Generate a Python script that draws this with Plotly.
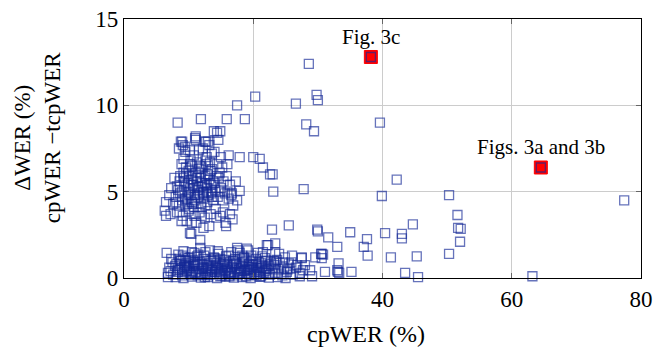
import plotly.graph_objects as go

# Sparse / outlying points (cpWER %, delta WER %)
sparse_x = [28.6, 20.3, 17.5, 29.8, 30.0, 26.6, 8.3, 11.9, 15.9, 18.7, 28.2, 29.4, 39.6, 13.9, 14.9,
            42.2, 39.9, 50.3, 77.4, 27.8, 23.1, 23.0, 51.6, 51.7, 52.1, 52.0, 50.3, 44.7, 43.0, 43.0,
            40.4, 37.6, 37.1, 37.7, 35.0, 33.0, 31.6, 30.0, 25.5, 41.3, 45.3, 33.2, 30.5, 29.6, 35.2,
            33.1, 43.5, 45.5, 63.2, 27.7, 28.8, 29.1, 27.5, 21.0, 21.5, 22.6, 17.9, 20.0, 17.9, 16.7,
            16.9, 15.8, 10.4, 11.8, 14.9, 10.5, 22.9, 22.3, 23.4, 24.9, 29.9, 30.8, 31.1, 33.0, 33.3,
            30.6, 30.6, 10.2, 38.2, 64.5]
sparse_y = [12.4, 10.5, 10.0, 10.6, 10.3, 10.1, 9.0, 9.2, 9.2, 9.2, 8.9, 8.5, 9.0, 8.5, 8.5,
            5.7, 4.75, 4.8, 4.5, 5.15, 5.0, 6.0, 3.65, 2.9, 2.85, 2.1, 1.4, 3.1, 2.55, 2.3,
            2.6, 2.25, 1.8, 1.3, 2.65, 1.8, 2.35, 2.7, 3.05, 1.2, 1.25, 0.85, 1.4, 1.2, 0.35,
            0.35, 0.3, 0.05, 0.1, 0.45, 0.45, 0.1, 1.15, 6.9, 6.4, 6.0, 7.0, 7.0, 5.05, 4.9,
            4.2, 3.0, 2.55, 2.2, 3.6, 3.2, 2.8, 1.9, 2.0, 1.2, 2.8, 1.35, 0.35, 0.45, 0.3,
            1.4, 1.15, 2.6, 12.8, 6.4]

# Upper cluster (cpWER ~6-18 %, delta ~3-8.5 %)
upper_x = [8.8, 9.1, 8.5, 10.2, 11.1, 12.5, 13.2, 12.2, 13.6, 14.6, 9.4, 11.0, 13.0, 14.4, 9.0, 11.1, 12.7,
           9.5, 10.8, 11.6, 12.8, 14.0, 15.0, 9.2, 10.3, 13.3, 16.2,
           8.9, 9.6, 10.5, 11.3, 12.0, 12.7, 13.6, 14.4, 15.2, 16.0, 10.0, 11.8, 13.0, 14.8, 9.2, 15.9,
           7.8, 8.6, 9.3, 9.9, 10.6, 11.2, 11.9, 12.5, 13.2, 14.0, 14.7, 15.4, 16.4, 17.3, 8.2, 10.2,
           11.5, 12.9, 13.7, 15.0, 16.0, 7.3, 9.0,
           7.0, 8.0, 8.7, 9.5, 10.3, 11.0, 11.7, 12.3, 13.0, 13.8, 14.5, 15.3, 16.2, 17.5, 9.8, 10.8,
           12.6, 14.2, 6.5, 7.6, 8.5,
           6.3, 7.2, 8.2, 9.1, 10.0, 10.9, 11.7, 12.5, 13.4, 14.3, 15.3, 16.4, 6.5, 11.2, 13.2, 12.3,
           8.9, 16.8, 15.7,
           9.3, 10.0, 10.7, 11.4, 12.1, 12.8, 13.5, 9.6, 10.4, 11.1, 11.9, 12.6, 13.4, 9.0, 9.9, 10.6,
           11.4, 12.2, 12.9, 13.6, 10.1, 11.9, 14.1, 8.4, 8.1, 14.8, 15.6, 16.6, 9.7, 12.0,
           9.4, 10.1, 10.9, 11.6, 12.3, 13.0, 13.8, 9.8, 10.5, 11.3, 12.0, 12.8, 13.5, 14.3, 10.2, 11.0,
           11.8, 12.6, 8.7, 9.5]
upper_y = [7.9, 7.7, 7.5, 7.4, 8.0, 7.9, 7.7, 7.5, 7.2, 8.0, 7.6, 8.1, 7.9, 8.4, 7.9, 8.2, 7.9,
           7.3, 7.1, 7.4, 7.0, 7.3, 7.0, 6.9, 6.8, 6.7, 7.1,
           6.6, 6.4, 6.5, 6.7, 6.4, 6.6, 6.3, 6.6, 6.4, 6.6, 6.2, 6.1, 6.0, 6.1, 6.1, 5.9,
           5.8, 5.6, 5.8, 5.5, 5.9, 5.6, 5.8, 5.5, 5.7, 5.5, 5.8, 5.6, 5.4, 5.6, 5.3, 5.2,
           5.3, 5.2, 5.0, 5.2, 5.0, 5.2, 5.0,
           4.8, 4.7, 4.9, 4.6, 4.8, 4.5, 4.9, 4.6, 4.8, 4.5, 4.7, 4.5, 4.6, 4.5, 4.3, 4.1,
           4.2, 4.0, 4.4, 4.3, 4.2,
           3.9, 3.7, 3.8, 3.6, 3.9, 3.6, 3.8, 3.5, 3.7, 3.5, 3.8, 3.7, 3.6, 3.2, 3.0, 2.9,
           3.3, 3.4, 3.2,
           5.3, 5.0, 5.4, 5.1, 5.5, 5.0, 5.4, 6.0, 5.7, 6.1, 5.3, 5.9, 6.2, 4.5, 4.9, 4.3,
           4.7, 4.9, 4.4, 4.7, 4.0, 4.3, 5.1, 5.1, 4.4, 5.0, 4.9, 4.8, 3.3, 3.6,
           5.6, 5.9, 5.2, 6.3, 5.0, 6.0, 5.6, 4.6, 4.4, 5.8, 4.1, 5.4, 4.9, 5.9, 6.6, 4.8,
           6.5, 6.8, 5.9, 4.2]

# Bottom band (cpWER ~6-28 %, delta ~0-1.9 %)
lower_x = [6.6, 8.4, 9.4, 9.1, 11.8, 13.3, 17.5, 19.0, 22.1, 23.4, 17.6, 19.2, 20.7, 10.5, 12.4, 14.6,
           15.8, 16.6, 18.3, 21.4, 24.0, 26.0, 27.5, 10.0, 13.9,
           7.5, 8.7, 9.8, 10.7, 11.5, 12.3, 13.1, 14.0, 14.8, 15.6, 16.4, 17.2, 18.0, 18.8, 19.6, 20.4,
           21.2, 22.0, 22.8, 23.7, 24.6, 25.5, 26.8, 28.0, 11.0, 16.0, 19.3, 23.2,
           7.0, 7.9, 8.6, 9.3, 10.0, 10.8, 11.6, 12.3, 13.0, 13.7, 14.5, 15.2, 16.0, 16.7, 17.5, 18.2,
           19.0, 19.8, 20.6, 21.4, 22.2, 23.0, 23.9, 24.8, 25.7, 26.6, 9.8, 12.9, 15.8, 18.7, 21.0,
           6.8, 7.6, 8.3, 9.0, 9.7, 10.4, 11.1, 11.8, 12.6, 13.3, 14.1, 14.8, 15.6, 16.3, 17.1, 17.9,
           18.6, 19.4, 20.2, 21.0, 21.8, 22.6, 23.4, 24.3, 25.2, 26.1, 27.2,
           6.8, 8.0, 9.2, 10.5, 11.9, 13.0, 14.4, 15.7, 17.0, 18.3, 19.6, 21.0, 22.4, 23.8, 25.0, 27.2,
           8.1, 8.9, 9.6, 10.2, 10.9, 11.4, 12.0, 12.7, 13.4, 14.2, 14.9, 15.4, 16.1, 16.9, 17.6, 18.4,
           19.1, 19.9, 20.5, 21.3, 22.0, 22.7, 8.5, 11.3, 14.3, 17.4, 20.0, 12.1, 15.0, 18.1, 9.4, 13.6,
           16.5, 19.5, 24.5, 25.9, 7.3, 7.2, 10.1, 12.9, 15.3, 17.8, 20.8, 23.3, 11.5, 14.9, 18.6, 21.8,
           8.3, 9.0, 9.8, 10.6, 11.3, 12.1, 12.8, 13.6, 14.3, 15.1, 15.9, 16.6, 17.3, 18.1, 18.9, 19.7,
           20.4, 21.2, 21.9,
           8.8, 9.5, 10.3, 11.0, 11.8, 12.5, 13.3, 14.0, 14.8, 15.5, 16.3, 17.0, 17.8, 18.5, 19.3, 20.1,
           20.9, 21.6, 22.4,
           9.2, 10.9, 12.6, 14.5, 16.2, 17.9, 19.7, 21.5, 23.5, 25.3]
lower_y = [1.45, 1.35, 1.2, 1.3, 1.75, 1.6, 1.75, 1.7, 1.9, 1.5, 1.6, 1.6, 1.45, 1.5, 1.3, 1.4,
           1.25, 1.5, 1.3, 1.25, 1.4, 1.3, 1.2, 1.15, 1.2,
           0.9, 1.0, 0.85, 1.05, 0.9, 1.1, 0.85, 1.0, 0.8, 1.05, 0.9, 1.1, 0.85, 1.0, 0.9, 1.1,
           0.85, 1.0, 0.8, 1.05, 0.9, 0.85, 0.75, 0.75, 0.8, 0.8, 0.8, 1.0,
           0.6, 0.7, 0.5, 0.65, 0.55, 0.7, 0.5, 0.65, 0.5, 0.7, 0.55, 0.7, 0.5, 0.65, 0.55, 0.7,
           0.5, 0.65, 0.55, 0.7, 0.5, 0.6, 0.5, 0.6, 0.55, 0.6, 0.45, 0.75, 0.45, 0.45, 0.45,
           0.3, 0.2, 0.35, 0.25, 0.4, 0.2, 0.35, 0.25, 0.4, 0.2, 0.35, 0.25, 0.4, 0.2, 0.35, 0.25,
           0.4, 0.2, 0.35, 0.25, 0.4, 0.2, 0.3, 0.25, 0.35, 0.2, 0.3,
           0.05, 0.05, 0.0, 0.08, 0.02, 0.05, 0.0, 0.08, 0.02, 0.05, 0.0, 0.06, 0.02, 0.05, 0.0, 0.1,
           0.8, 0.6, 1.0, 0.3, 0.9, 0.15, 0.8, 0.3, 1.0, 0.6, 0.1, 0.85, 0.3, 1.0, 0.15, 0.9,
           0.3, 1.0, 0.15, 0.6, 0.3, 0.9, 1.1, 1.25, 0.75, 0.8, 0.75, 0.55, 0.45, 0.55, 0.35, 0.45,
           0.35, 0.45, 0.15, 0.9, 1.1, 0.4, 0.7, 0.15, 0.25, 0.45, 0.35, 0.75, 1.35, 1.1, 1.2, 1.15,
           0.45, 0.15, 0.6, 0.4, 0.75, 0.2, 0.6, 0.35, 0.9, 0.15, 0.6, 0.3, 0.85, 0.4, 0.1, 0.55,
           0.8, 0.1, 0.55,
           1.0, 0.75, 1.2, 0.3, 0.95, 0.05, 0.55, 1.15, 0.35, 0.95, 0.1, 0.75, 0.3, 1.15, 0.65, 0.2,
           0.9, 0.3, 0.7,
           1.55, 1.45, 1.5, 1.55, 1.3, 1.45, 1.3, 1.5, 0.9, 0.5]

# Highlighted examples
hl_x = [38.2, 64.5]
hl_y = [12.8, 6.4]
hl_labels = ["Fig. 3c", "Figs. 3a and 3b"]

x_ticks = [0, 20, 40, 60, 80]
y_ticks = [0, 5, 10, 15]

FONT = "Liberation Serif"
BLUE = "rgba(20,40,150,0.65)"

all_x = sparse_x + upper_x + lower_x
all_y = sparse_y + upper_y + lower_y

fig = go.Figure()
fig.add_trace(go.Scatter(
    x=hl_x, y=hl_y, mode="markers",
    marker=dict(symbol="square", size=13, color="#ff0000", line=dict(color="#ff0000", width=1)),
    cliponaxis=False, showlegend=False, hoverinfo="skip"))
fig.add_trace(go.Scatter(
    x=all_x, y=all_y, mode="markers",
    marker=dict(symbol="square-open", size=9, color=BLUE, line=dict(width=1.3)),
    cliponaxis=False, showlegend=False))

for x, y, t in zip(hl_x, hl_y, hl_labels):
    fig.add_annotation(x=x, y=y, text=t, showarrow=False, yshift=20,
                       xanchor="center", yanchor="middle",
                       font=dict(family=FONT, size=21, color="black"))

fig.add_annotation(xref="paper", yref="paper", x=0.468, y=-0.216, text="cpWER (%)",
                   showarrow=False, xanchor="center", yanchor="middle",
                   font=dict(family=FONT, size=24, color="black"))
fig.add_annotation(xref="paper", yref="paper", x=-0.168, y=0.5405,
                   text="ΔWER (%)<br>cpWER −tcpWER", textangle=-90,
                   showarrow=False, xanchor="center", yanchor="middle",
                   font=dict(family=FONT, size=23, color="black"))

axis_common = dict(
    showgrid=True, gridcolor="#cccccc", gridwidth=1, zeroline=False,
    showline=True, linecolor="black", linewidth=1.2, mirror="ticks",
    ticks="inside", ticklen=5, tickcolor="#666666", tickwidth=1,
    tickfont=dict(family=FONT, size=23, color="black"), automargin=False,
)
fig.update_xaxes(range=[0, 80], tickvals=x_ticks, **axis_common)
fig.update_yaxes(range=[0, 15], tickvals=y_ticks, **axis_common)

fig.update_layout(
    width=655, height=347,
    margin=dict(l=124, r=14, t=19, b=69),
    plot_bgcolor="white", paper_bgcolor="white",
)

fig.write_html("out.html")
